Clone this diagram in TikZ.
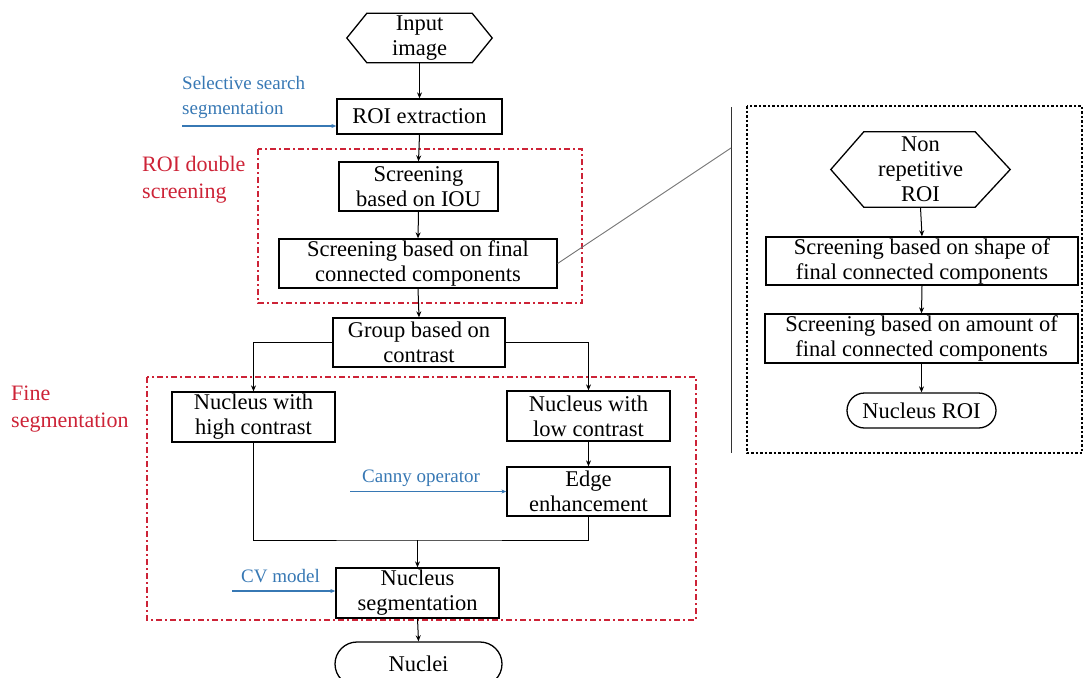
\documentclass[tikz,border=0pt]{standalone}
\usepackage{fontspec}
\setmainfont{Liberation Serif}
\usetikzlibrary{arrows.meta,calc,shapes.misc}
\definecolor{redc}{RGB}{205,35,55}
\definecolor{bluec}{RGB}{55,120,180}
\begin{document}
\begin{tikzpicture}[x=1pt,y=-1pt,
  boxline/.style={draw=black, line width=1.3pt},
  box/.style={boxline, align=center, inner sep=0pt, font=\fontsize{22.5}{25}\selectfont},
  plain/.style={align=center, inner sep=0pt, font=\fontsize{22.5}{25}\selectfont},
  stadium/.style={boxline, rounded rectangle, align=center, inner sep=0pt, font=\fontsize{22.5}{25}\selectfont},
  arr/.style={draw=black, line width=1pt, -{Stealth[length=6pt,width=5pt]}},
  conn/.style={draw=black, line width=1pt},
  bluearr/.style={draw=bluec, line width=1.1pt, -{Stealth[length=5pt,width=4pt]}},
  bluelbl/.style={text=bluec, align=left, inner sep=0pt, font=\fontsize{19}{25}\selectfont},
  redlbl/.style={text=redc, align=left, inner sep=0pt, font=\fontsize{22}{27}\selectfont},
  redbox/.style={draw=redc, line width=1.3pt, dash pattern=on 6pt off 3pt on 2pt off 3pt},
  dotbox/.style={draw=black, line width=1.3pt, dash pattern=on 2.5pt off 2pt},
]
\useasboundingbox (0,0) rectangle (1086,677);
\clip (0,0) rectangle (1086,677);

% ---- dash-dot group frames
\draw[redbox] (258,149) rectangle (582,303);
\draw[redbox] (147,377) rectangle (696,620);
\draw[dotbox] (747,106) rectangle (1082,453);

% ---- main column
\node[plain, minimum width=145pt, minimum height=49pt] (in) at (419.5,38) {Input\\image};
\draw[boxline] (in.west) -- ([xshift=20pt]in.north west) -- ([xshift=-20pt]in.north east) -- (in.east) -- ([xshift=-20pt]in.south east) -- ([xshift=20pt]in.south west) -- cycle;

\node[box, minimum width=165pt, minimum height=35pt] (roi) at (419.5,116.5) {ROI extraction};
\node[box, minimum width=159pt, minimum height=49pt] (iou) at (418.5,186.5) {Screening\\based on IOU};
\node[box, minimum width=278pt, minimum height=49pt] (fcc) at (418,263.5) {Screening based on final\\connected components};
\node[box, minimum width=172pt, minimum height=49pt] (group) at (419,342.5) {Group based on\\contrast};
\node[box, minimum width=163pt, minimum height=50pt] (high) at (253.5,417) {Nucleus with\\high contrast};
\node[box, minimum width=163pt, minimum height=50pt] (low) at (588.5,416) {Nucleus with\\low contrast};
\node[box, minimum width=163pt, minimum height=49pt] (edge) at (588.5,491.5) {Edge\\enhancement};
\node[box, minimum width=163pt, minimum height=50pt] (seg) at (417.5,593) {Nucleus\\segmentation};
\node[stadium, minimum width=167pt, minimum height=44pt] (nuclei) at (418.5,664) {Nuclei};

% ---- right panel
\node[plain, minimum width=179pt, minimum height=75pt] (nr) at (920.5,169.5) {Non\\repetitive\\ROI};
\draw[boxline] (nr.west) -- ([xshift=33pt]nr.north west) -- ([xshift=-35pt]nr.north east) -- (nr.east) -- ([xshift=-35pt]nr.south east) -- ([xshift=33pt]nr.south west) -- cycle;
\node[box, minimum width=312pt, minimum height=48pt] (shape) at (922,261) {Screening based on shape of\\final connected components};
\node[box, minimum width=313pt, minimum height=49pt] (amount) at (921.5,338.5) {Screening based on amount of\\final connected components};
\node[stadium, minimum width=149pt, minimum height=35pt] (nroi) at (921.5,410.5) {Nucleus ROI};

% ---- labels
\node[bluelbl, anchor=south west] (sslbl) at (182,119) {Selective search\\segmentation};
\node[redlbl, anchor=west] (rdslbl) at (142,180) {ROI double\\screening};
\node[redlbl, anchor=west] (fslbl) at (11,409) {Fine\\segmentation};
\node[bluelbl, anchor=west] (cannylbl) at (362,478) {Canny operator};
\node[bluelbl, anchor=west] (cvlbl) at (241,576) {CV model};

% ---- connectors
\draw[arr] (in.south) -- (roi.north);
\draw[arr] (roi.south) -- (iou.north);
\draw[arr] (iou.south) -- (fcc.north);
\draw[arr] (fcc.south) -- (group.north);
\draw[arr] (group.west) -| (high.north);
\draw[arr] (group.east) -| (low.north);
\draw[arr] (low.south) -- (edge.north);
\coordinate (mj) at (417.5,540);
\draw[conn] (high.south) |- (mj) -| (edge.south);
\draw[arr] (mj) -- (seg.north);
\draw[arr] (seg.south) -- (nuclei.north);

\draw[arr] (nr.south) -- (shape.north);
\draw[arr] (shape.south) -- (amount.north);
\draw[arr] (amount.south) -- (nroi.north);

% ---- blue input arrows
\coordinate (ssS) at (182,126);
\draw[bluearr] (ssS) -- (ssS -| roi.west);
\coordinate (caS) at (350,491.5);
\draw[bluearr] (caS) -- (edge.west);
\coordinate (cvS) at (232,591);
\draw[bluearr] (cvS) -- (cvS -| seg.west);

% ---- zoom indication
\coordinate (vt) at (731,107);
\coordinate (vb) at (731,453);
\coordinate (zt) at (731,148);
\draw[black!80, line width=1pt] (vt) -- (vb);
\draw[black!55, line width=0.9pt] (fcc.east) -- (zt);
\end{tikzpicture}
\end{document}
